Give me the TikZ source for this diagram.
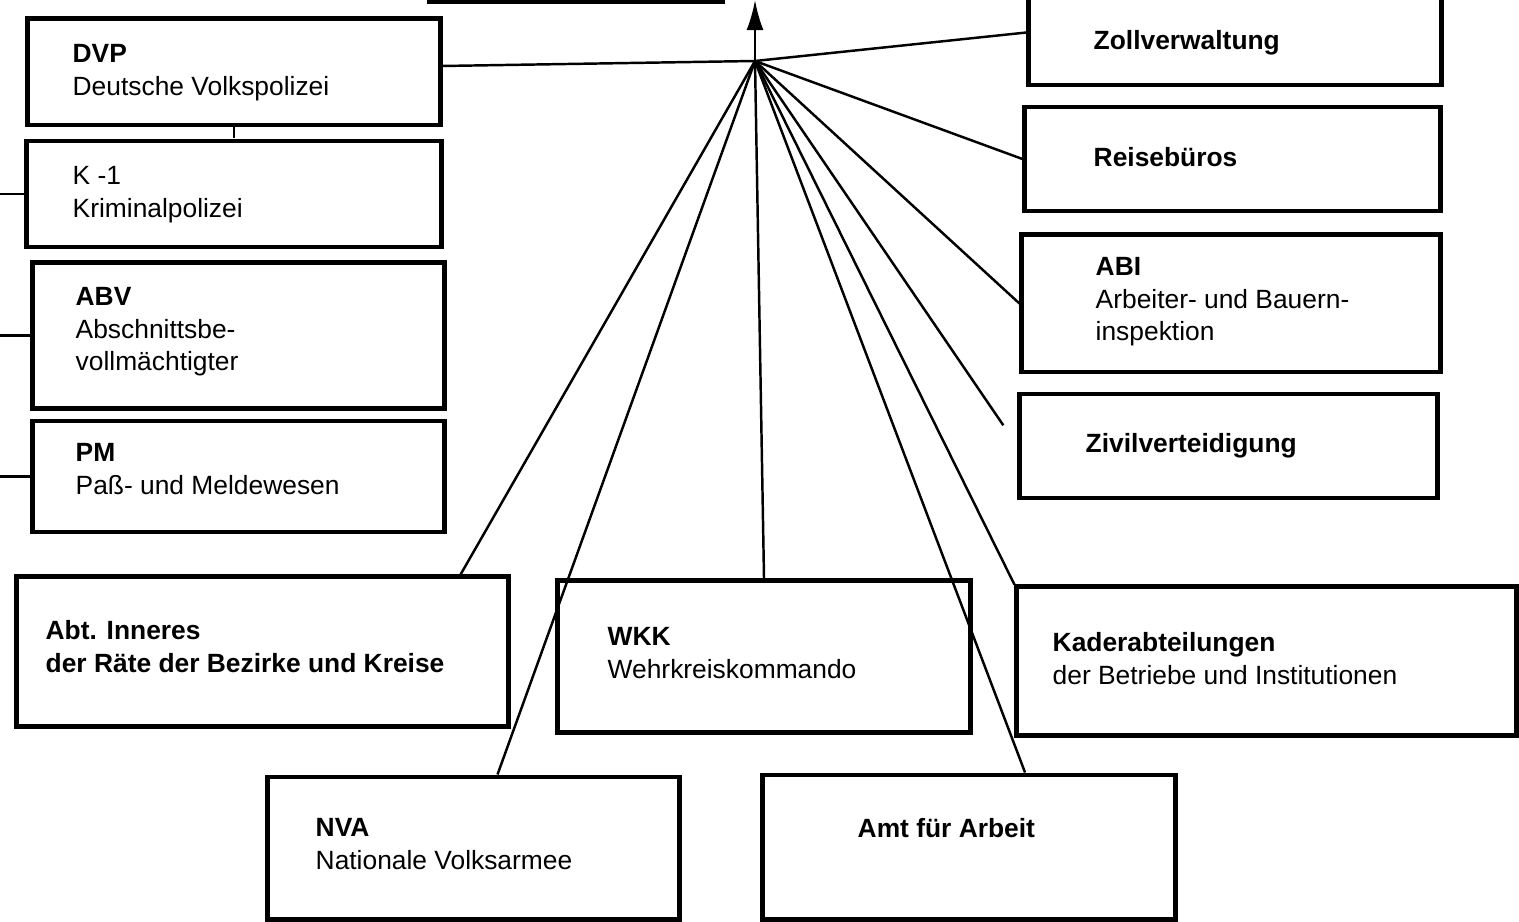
\documentclass[tikz,border=0pt]{standalone}
\usepackage{fontspec}
\setmainfont{Liberation Sans}
\usetikzlibrary{arrows.meta}

\tikzstyle{unit} = [rectangle, draw=black, line width=1.4pt]
\tikzstyle{unittext} = [anchor=north west, inner sep=0pt, align=left, font=\fontsize{7.5}{9.2}\selectfont]
\tikzstyle{link} = [draw=black, line width=0.7pt]

\begin{document}
\begin{tikzpicture}[x=0.01cm, y=-0.01cm]
    %\draw[step=100,gray,very thin] (0,0) grid (1519,922);
    \useasboundingbox (0,0) rectangle (1519,922);
    \clip (0,0) rectangle (1519,922);
    \coordinate (Hub) at (755,61);
    \coordinate (Up) at (755,0);
    \coordinate (K1 in) at (-5,194);
    \coordinate (ABV in) at (-5,335.5);
    \coordinate (PM in) at (-5,476.5);
    \node (Top) at (576,-29) [unit, minimum width=2.92cm, minimum height=0.62cm] {};
    \node (DVP) at (234,72) [unit, minimum width=4.12cm, minimum height=1.06cm] {};
    \node (K1) at (234,194) [unit, minimum width=4.14cm, minimum height=1.06cm] {};
    \node (ABV) at (238.5,335.5) [unit, minimum width=4.11cm, minimum height=1.45cm] {};
    \node (PM) at (238.5,476.5) [unit, minimum width=4.11cm, minimum height=1.11cm] {};
    \node (Zoll) at (1235,32.5) [unit, minimum width=4.12cm, minimum height=1.05cm] {};
    \node (Reise) at (1232.5,159) [unit, minimum width=4.15cm, minimum height=1.04cm] {};
    \node (ABI) at (1231,303.5) [unit, minimum width=4.18cm, minimum height=1.37cm] {};
    \node (Zivil) at (1228.5,446) [unit, minimum width=4.17cm, minimum height=1.04cm] {};
    \node (Inneres) at (262.5,651.5) [unit, minimum width=4.91cm, minimum height=1.49cm] {};
    \node (WKK) at (764,656.5) [unit, minimum width=4.12cm, minimum height=1.51cm] {};
    \node (Kader) at (1266.5,661) [unit, minimum width=4.99cm, minimum height=1.48cm] {};
    \node (NVA) at (473.5,848) [unit, minimum width=4.11cm, minimum height=1.42cm] {};
    \node (Amt) at (969,847) [unit, minimum width=4.12cm, minimum height=1.44cm] {};
    \node (DVP text) at (72,44) [unittext] {\textbf{DVP}\\Deutsche Volkspolizei};
    \node (K1 text) at (72,166) [unittext] {K -1\\Kriminalpolizei};
    \node (ABV text) at (75,287) [unittext] {\textbf{ABV}\\Abschnittsbe-\\vollmächtigter};
    \node (PM text) at (75,443) [unittext] {\textbf{PM}\\Paß- und Meldewesen};
    \node (Zoll text) at (1093,30) [unittext] {\textbf{Zollverwaltung}};
    \node (Reise text) at (1093,147) [unittext] {\textbf{Reisebüros}};
    \node (ABI text) at (1095,257) [unittext] {\textbf{ABI}\\Arbeiter- und Bauern-\\inspektion};
    \node (Zivil text) at (1085,433) [unittext] {\textbf{Zivilverteidigung}};
    \node (Inneres text) at (45,620) [unittext] {\textbf{Abt. Inneres}\\\textbf{der Räte der Bezirke und Kreise}};
    \node (WKK text) at (607,627) [unittext] {\textbf{WKK}\\Wehrkreiskommando};
    \node (Kader text) at (1052,632) [unittext] {\textbf{Kaderabteilungen}\\der Betriebe und Institutionen};
    \node (NVA text) at (315,818) [unittext] {\textbf{NVA}\\Nationale Volksarmee};
    \node (Amt text) at (857,818) [unittext] {\textbf{Amt für Arbeit}};
    \draw [link, -{Latex[length=3mm, width=1.7mm]}] (Hub) -- (Up);
    \draw [link] ([yshift=0.06cm]DVP.east) edge (Hub);
    \draw [link] (DVP.south) edge (K1.north);
    \draw [link] (K1.west) edge (K1 in);
    \draw [link] (ABV.west) edge (ABV in);
    \draw [link] (PM.west) edge (PM in);
    \draw [link] (Hub) edge (Zoll.west);
    \draw [link] (Hub) edge (Reise.west);
    \draw [link] (Hub) edge (ABI.west);
    \draw [link] (Hub) edge [shorten >=0.25cm] (Zivil.west);
    \draw [link] (Hub) edge (Kader.north west);
    \draw [link] (Hub) edge ([xshift=0.56cm]Amt.north);
    \draw [link] (Hub) edge (WKK.north);
    \draw [link] (Hub) edge ([xshift=0.24cm]NVA.north);
    \draw [link] (Hub) edge ([xshift=-0.5cm]Inneres.north east);
\end{tikzpicture}
\end{document}
